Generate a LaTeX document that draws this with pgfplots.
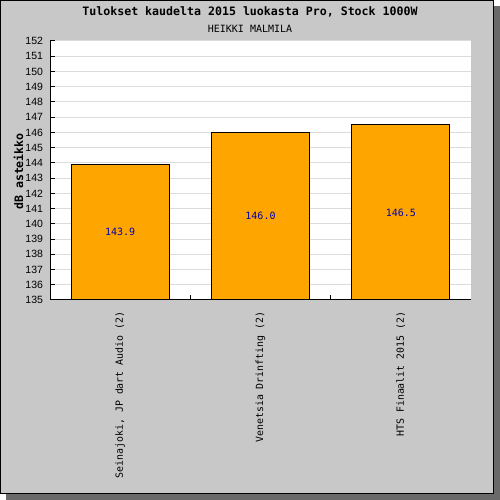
\documentclass[border=0pt]{standalone}
\usepackage{pgfplots}
\pgfplotsset{compat=1.18}
\usepackage{pgfplotstable}
\usepackage{fontspec}
\setmainfont{Liberation Sans}
\newfontfamily\mono{DejaVu Sans Mono}
\definecolor{bg}{HTML}{C8C8C8}
\definecolor{shadowc}{HTML}{6A6A6A}
\definecolor{barorange}{HTML}{FFA500}
\definecolor{gridgray}{HTML}{DCDCDC}
\definecolor{valblue}{HTML}{0000AA}
\pgfplotstableread{
x y
0 143.9
1 146.0
2 146.5
}\datatable
\begin{document}
\begin{tikzpicture}[x=1pt,y=1pt]
\useasboundingbox (0,0) rectangle (500,500);
\fill[shadowc] (6,0) rectangle (500,494);
\filldraw[fill=bg,draw=black,line width=1pt] (0.5,6.5) rectangle (493.5,499.5);
\node[font=\mono\bfseries\fontsize{11.6}{12}\selectfont] at (250,488.5) {Tulokset kaudelta 2015 luokasta Pro, Stock 1000W};
\node[font=\mono\fontsize{10}{12}\selectfont] at (250,471) {HEIKKI MALMILA};
\node[rotate=90,font=\mono\bfseries\fontsize{11.6}{12}\selectfont] at (18.5,328.5) {dB asteikko};
\begin{axis}[
  at={(50pt,200pt)}, anchor=south west, scale only axis,
  width=421pt, height=259pt,
  xmin=-0.5, xmax=2.5, ymin=135, ymax=152,
  axis background/.style={fill=white},
  axis x line*=bottom, axis y line*=left,
  axis line style={black, line width=1pt, -},
  ytick={135,136,...,152},
  ymajorgrids, grid style={gridgray, line width=1pt},
  major tick length=5pt,
  tick style={black, line width=1pt},
  /pgf/number format/assume math mode=true,
  yticklabel style={font=\fontsize{10.5}{12}\selectfont, xshift=-3.5pt},
  xtick={0.5,1.5}, xticklabels={},
  extra x ticks={0,1,2},
  extra x tick labels={{Seinajoki, JP dart Audio (2)},{Venetsia Drinfting (2)},{HTS Finaalit 2015 (2)}},
  extra x tick style={major tick length=0pt, xticklabel style={rotate=90, anchor=east, font=\mono\fontsize{9.9}{11}\selectfont, xshift=-8pt}},
  xtick align=inside, ytick align=inside,
]
\addplot[ybar, bar width=98pt, fill=barorange, draw=black, line width=1pt] table[x=x,y=y]{\datatable};
\addplot[draw=none, point meta=explicit,
  nodes near coords={\pgfmathprintnumber[fixed,fixed zerofill,precision=1]{\pgfplotspointmeta}},
  every node near coord/.style={anchor=center, font=\mono\fontsize{10}{12}\selectfont, text=valblue}]
  table[x=x, y expr={(\thisrow{y}+135)/2}, meta=y]{\datatable};
\end{axis}
\end{tikzpicture}
\end{document}
